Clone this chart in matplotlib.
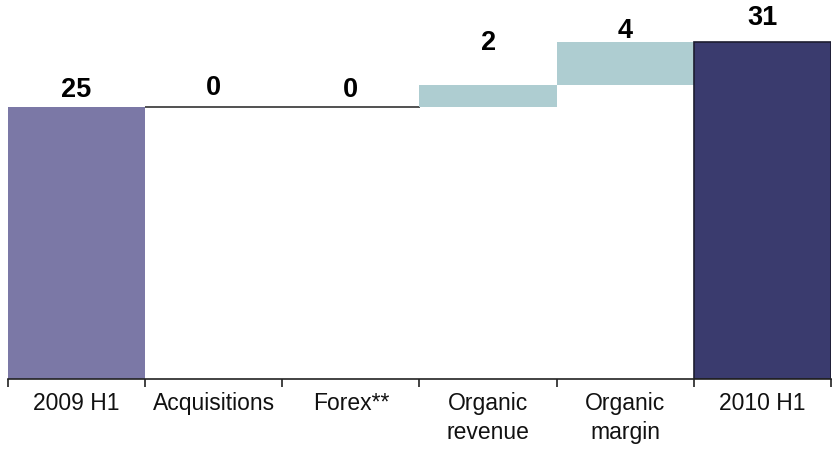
import matplotlib
matplotlib.use("Agg")
import matplotlib.pyplot as plt
import numpy as np

# Waterfall: 2009 H1 -> 2010 H1
categories = ["2009 H1", "Acquisitions", "Forex**", "Organic\nrevenue", "Organic\nmargin", "2010 H1"]
values = [25, 0, 0, 2, 4, 31]
kinds = ["total", "step", "step", "step", "step", "total"]

bar_colors = ["#7B78A6", "#FFFFFF", "#FFFFFF", "#AECDD1", "#AECDD1", "#3A3B6E"]
edge_colors = ["none", "#333333", "#333333", "none", "none", "#1C1C30"]
label_gap_pts = [8, 9.5, 8, 26, 3.5, 13]

plt.rcParams["font.family"] = ["Liberation Sans", "DejaVu Sans"]

fig = plt.figure(figsize=(8.32, 4.52), dpi=100)
ax = fig.add_axes([8 / 832, 72 / 452, 823 / 832, 380 / 452])

x = np.arange(len(categories))
bottoms = []
running = 0
for v, k in zip(values, kinds):
    if k == "total":
        bottoms.append(0)
        running = v
    else:
        bottoms.append(running)
        running += v
bottoms = np.array(bottoms)
heights = np.array(values)

for i in range(len(categories)):
    ec = edge_colors[i]
    ax.bar(x[i], heights[i], bottom=bottoms[i], width=1.0,
           color=bar_colors[i], edgecolor=ec,
           linewidth=1.2 if ec != "none" else 0, zorder=2)
    top = bottoms[i] + heights[i]
    ax.annotate(f"{values[i]}", (x[i], top), xytext=(0, label_gap_pts[i]),
                textcoords="offset points", ha="center", va="baseline",
                fontsize=19.5, fontweight="bold", color="#000000")

ax.set_xlim(-0.5, len(categories) - 0.5)
ax.set_ylim(0, 34.93)

for s in ["top", "left", "right"]:
    ax.spines[s].set_visible(False)
ax.spines["bottom"].set_color("#222222")
ax.spines["bottom"].set_linewidth(1.2)
ax.spines["bottom"].set_zorder(3)

ax.set_yticks([])
ax.set_xticks(x)
ax.set_xticklabels(categories, fontsize=16.5, color="#111111", linespacing=1.35)
ax.tick_params(axis="x", which="major", length=0, pad=8.5)
ax.set_xticks(np.arange(-0.5, len(categories)), minor=True)
ax.tick_params(axis="x", which="minor", length=6, width=1.2, color="#222222", direction="out")

fig.savefig("out.png", dpi=100)
